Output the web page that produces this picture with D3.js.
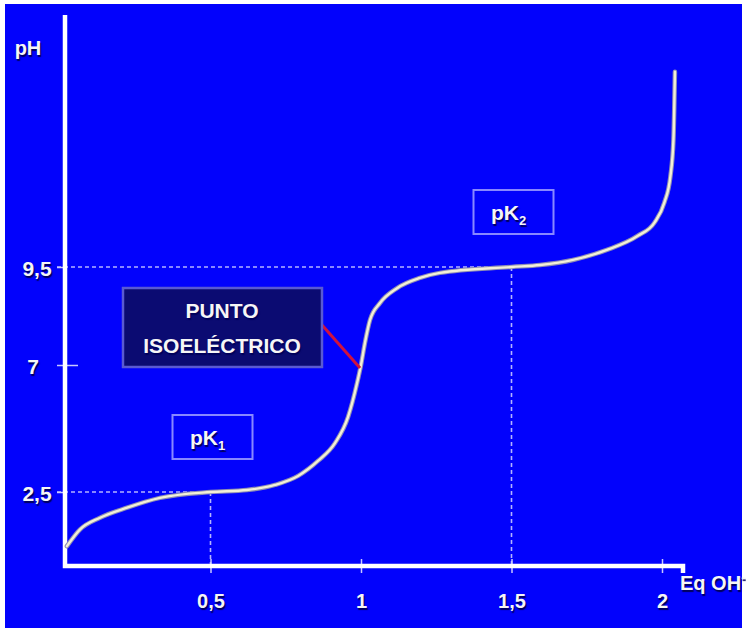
<!DOCTYPE html>
<html>
<head>
<meta charset="utf-8">
<script src="https://cdn.jsdelivr.net/npm/d3@7"></script>
<style>
  html, body { margin: 0; padding: 0; background: #fff; }
  #chart { width: 746px; height: 628px; }
  text { font-family: "Liberation Sans", Arial, sans-serif; font-weight: bold; fill: #f6f6f6; }
</style>
</head>
<body>
<div id="chart"></div>
<script>
// titration curve (equivalents of OH- vs pH)
const eqOH = [0.023, 0.066, 0.133, 0.223, 0.332, 0.5, 0.621, 0.714, 0.791, 0.857, 0.914, 0.957, 0.987, 1.0, 1.013, 1.03, 1.063, 1.12, 1.196, 1.262, 1.5, 1.595, 1.704, 1.817, 1.92, 1.975, 2.008, 2.028, 2.038, 2.043];
const pHValues = [0.67, 1.23, 1.63, 1.97, 2.3, 2.5, 2.57, 2.75, 3.07, 3.6, 4.24, 5.16, 6.36, 7.0, 7.56, 8.15, 8.58, 8.96, 9.22, 9.35, 9.5, 9.54, 9.64, 9.84, 10.12, 10.38, 10.78, 11.3, 12.02, 13.37];

const xTickValues = [0.5, 1, 1.5, 2];
const xTickLabels = ["0,5", "1", "1,5", "2"];
const yTickValues = [2.5, 7, 9.5];
const yTickLabels = ["2,5", "7", "9,5"];

const pKNames = ["1", "2"];
const pKEq = [0.5, 1.5];
const pKpH = [2.5, 9.5];

const isoEq = 1;
const isopH = 7;
const isoLines = ["PUNTO", "ISOELÉCTRICO"];

class TitrationChart {
  constructor(el) {
    this.el = el;
    this.width = 746;
    this.height = 628;
    this.axisX = 65;
    this.axisY = 566;
    this.shadow = "1px 2px 1px #00005a";
    this.data = eqOH.map((d, i) => ({ eq: d, pH: pHValues[i] }));

    // the pH axis of the slide is not to scale, so it is piecewise
    this.x = d3.scaleLinear().domain([0, 2]).range([60, 662]);
    this.y = d3
      .scaleLinear()
      .domain([0, 2.5, 7, 9.5, 14])
      .range([this.axisY, 492, 365, 267, 40]);

    this.svg = d3
      .select(el)
      .append("svg")
      .attr("width", this.width)
      .attr("height", this.height)
      .attr("viewBox", [0, 0, this.width, this.height]);

    this.render();
  }

  render() {
    this.svg
      .append("rect")
      .attr("x", 5)
      .attr("y", 4)
      .attr("width", this.width - 9)
      .attr("height", this.height - 4)
      .attr("fill", "#0202fc");

    this.renderGuides();
    this.renderAxes();
    this.renderCurve();
    this.renderLabels();
  }

  renderGuides() {
    const g = this.svg
      .append("g")
      .attr("stroke", "#b4b4ff")
      .attr("stroke-width", 1.6)
      .attr("stroke-dasharray", "4,3");

    pKEq.forEach((eq, i) => {
      const px = this.x(eq);
      const py = this.y(pKpH[i]);
      g.append("line")
        .attr("x1", this.axisX - 8)
        .attr("x2", px)
        .attr("y1", py)
        .attr("y2", py);
      g.append("line")
        .attr("x1", px)
        .attr("x2", px)
        .attr("y1", py)
        .attr("y2", this.axisY);
    });
  }

  renderAxes() {
    const gx = this.svg
      .append("g")
      .attr("transform", `translate(0,${this.axisY})`)
      .call(
        d3
          .axisBottom(this.x)
          .tickValues(xTickValues)
          .tickFormat((d, i) => xTickLabels[i])
      )
      .call((g) => g.select(".domain").remove());
    gx.selectAll(".tick line")
      .attr("y1", -7)
      .attr("y2", 7)
      .attr("stroke", "#c8c8ff")
      .attr("stroke-width", 1.5);
    gx.selectAll(".tick text")
      .attr("y", 28)
      .attr("font-size", 20)
      .style("text-shadow", this.shadow);

    const gy = this.svg
      .append("g")
      .attr("transform", `translate(${this.axisX},0)`)
      .call(
        d3
          .axisLeft(this.y)
          .tickValues(yTickValues)
          .tickFormat((d, i) => yTickLabels[i])
      )
      .call((g) => g.select(".domain").remove());
    gy.selectAll(".tick line")
      .attr("x1", -8)
      .attr("x2", (d) => (d === 7 ? 13 : 0))
      .attr("stroke", "#c8c8ff")
      .attr("stroke-width", 1.5);
    gy.selectAll(".tick text")
      .attr("x", (d) => (d === 7 ? -32 : -28))
      .attr("dy", "0.4em")
      .attr("text-anchor", "middle")
      .attr("font-size", 21)
      .style("text-shadow", this.shadow);

    this.svg
      .append("path")
      .attr("fill", "none")
      .attr("stroke", "#ffffff")
      .attr("stroke-width", 4.5)
      .attr("d", `M${this.axisX},15V${this.axisY}H${this.x(2) + 21}v7`);

    this.svg
      .append("text")
      .attr("x", 28)
      .attr("y", 55)
      .attr("text-anchor", "middle")
      .attr("font-size", 20)
      .style("text-shadow", this.shadow)
      .text("pH");

    const eqLabel = this.svg
      .append("text")
      .attr("x", this.x(2) + 18)
      .attr("y", 590)
      .attr("font-size", 20)
      .style("text-shadow", this.shadow)
      .text("Eq OH");
    eqLabel.append("tspan").attr("dy", -8).attr("font-size", 12).text("-");
  }

  renderCurve() {
    const line = d3
      .line()
      .x((d) => this.x(d.eq))
      .y((d) => this.y(d.pH))
      .curve(d3.curveMonotoneX);

    this.svg
      .append("path")
      .datum(this.data)
      .attr("fill", "none")
      .attr("stroke", "#8c8cb4")
      .attr("stroke-width", 4.5)
      .attr("stroke-linecap", "round")
      .attr("d", line);
    this.svg
      .append("path")
      .datum(this.data)
      .attr("fill", "none")
      .attr("stroke", "#f2efd6")
      .attr("stroke-width", 2.4)
      .attr("stroke-linecap", "round")
      .attr("d", line);
  }

  renderLabels() {
    // pK boxes sit above their point on the curve
    pKEq.forEach((eq, i) => {
      const cx = this.x(eq) + 2;
      const cy = this.y(pKpH[i]) - 56;
      const g = this.svg.append("g").attr("transform", `translate(${cx},${cy})`);
      g.append("rect")
        .attr("x", -40)
        .attr("y", -21)
        .attr("width", 80)
        .attr("height", 44)
        .attr("fill", "none")
        .attr("stroke", "#8888ff")
        .attr("stroke-width", 2);
      const t = g
        .append("text")
        .attr("x", -5)
        .attr("y", 9)
        .attr("text-anchor", "middle")
        .attr("font-size", 21)
        .style("text-shadow", this.shadow);
      t.append("tspan").text("pK");
      t.append("tspan").attr("dy", 5).attr("font-size", 13).text(pKNames[i]);
    });

    const px = this.x(isoEq);
    const py = this.y(isopH);
    const bx = px - 238;
    const by = py - 77;

    this.svg
      .append("line")
      .attr("x1", bx + 199)
      .attr("y1", by + 37)
      .attr("x2", px - 1)
      .attr("y2", py + 3)
      .attr("stroke", "#d0123e")
      .attr("stroke-width", 3);

    this.svg
      .append("rect")
      .attr("x", bx)
      .attr("y", by)
      .attr("width", 199)
      .attr("height", 79)
      .attr("fill", "#0b0b72")
      .attr("stroke", "#5a5ad2")
      .attr("stroke-width", 2.5);

    this.svg
      .append("g")
      .selectAll("text")
      .data(isoLines)
      .join("text")
      .attr("x", bx + 99)
      .attr("y", (d, i) => by + 30 + i * 35)
      .attr("text-anchor", "middle")
      .attr("font-size", 21)
      .style("text-shadow", this.shadow)
      .text((d) => d);
  }
}

new TitrationChart(document.getElementById("chart"));
</script>
</body>
</html>
